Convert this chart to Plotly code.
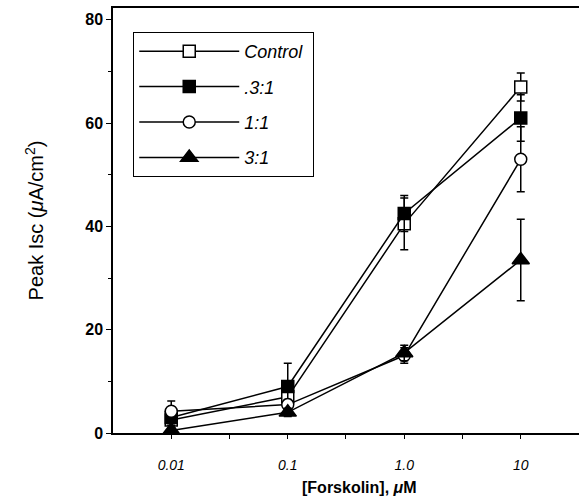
import plotly.graph_objects as go

forskolin = [0.01, 0.1, 1.0, 10]

control = [2.5, 7.0, 40.5, 67.0]
control_err = [1.5, 1.5, 5.0, 2.7]

r03 = [3.0, 9.0, 42.5, 61.0]
r03_err = [1.5, 4.5, 3.5, 4.5]

r11 = [4.2, 5.5, 15.0, 53.0]
r11_err = [2.0, 1.0, 1.5, 6.3]

r31 = [0.5, 4.0, 15.5, 33.5]
r31_err = [0.5, 0.8, 1.5, 7.9]

x_tickvals = [0.01, 0.1, 1.0, 10]
x_ticktext = ["0.01", "0.1", "1.0", "10"]
x_minor_tickvals = [0.0316, 0.316, 3.16]
y_tickvals = [0, 20, 40, 60, 80]

FONT = "Liberation Sans, Arial, sans-serif"

series = [
    ("Control\u00a0", control, control_err, "square", "white", 12),
    (".3:1", r03, r03_err, "square", "black", 12),
    ("1:1", r11, r11_err, "circle", "white", 12),
    ("3:1", r31, r31_err, "triangle-up", "black", 15),
]

fig = go.Figure()
for i, (name, ys, errs, sym, fill, size) in enumerate(series):
    fig.add_trace(go.Scatter(
        x=forskolin, y=ys, name=name, mode="lines+markers",
        legendgroup=f"g{i}",
        line=dict(color="black", width=1.5),
        marker=dict(symbol=sym, size=size, color=fill,
                    line=dict(color="black", width=1.5)),
        error_y=dict(type="data", array=errs, visible=True,
                     color="black", thickness=1.5, width=4),
        cliponaxis=False,
    ))

fig.add_annotation(
    text="<b>[Forskolin], <i>μ</i>M</b>",
    xref="paper", yref="paper", x=0.53, y=-0.129,
    xanchor="center", yanchor="middle", showarrow=False,
    font=dict(family=FONT, size=16, color="black"),
)

fig.update_layout(
    width=579, height=499,
    margin=dict(l=113, r=0, t=8, b=66, autoexpand=False),
    paper_bgcolor="white", plot_bgcolor="white",
    font=dict(family=FONT, color="black"),
    showlegend=True,
    legend=dict(
        x=0.043, y=0.944, xanchor="left", yanchor="top",
        bgcolor="white", bordercolor="black", borderwidth=1.2,
        font=dict(family=FONT, size=18, color="black", style="italic"),
        itemwidth=100, tracegroupgap=9,
        itemclick=False,
    ),
    xaxis=dict(
        type="log", range=[-2.5, 1.5], automargin=False,
        tickvals=x_tickvals, ticktext=x_ticktext,
        ticks="outside", ticklen=4, tickwidth=1.2, tickcolor="black",
        minor=dict(tickvals=x_minor_tickvals, ticks="outside", ticklen=4,
                   tickcolor="black", tickwidth=1.2),
        ticklabelstandoff=14,
        showline=True, linecolor="black", linewidth=1.5, mirror=True,
        showgrid=False, zeroline=False,
        tickfont=dict(family=FONT, size=14, style="italic"),
    ),
    yaxis=dict(
        range=[0, 82.3], automargin=False,
        tickvals=y_tickvals,
        ticks="outside", ticklen=5, tickwidth=1.2, tickcolor="black",
        minor=dict(dtick=10, ticks="outside", ticklen=3, tickcolor="black", tickwidth=1),
        showline=True, linecolor="black", linewidth=1.5,
        showgrid=False, zeroline=False,
        tickfont=dict(family=FONT, size=16, weight="bold"),
        title=dict(text="Peak Isc (<i>μ</i>A/cm<sup>2</sup>)",
                   font=dict(family=FONT, size=20), standoff=36),
    ),
)

fig.write_html("out.html", config={"displayModeBar": False},
               post_script="document.body.style.margin='0';document.body.style.overflow='hidden';")
